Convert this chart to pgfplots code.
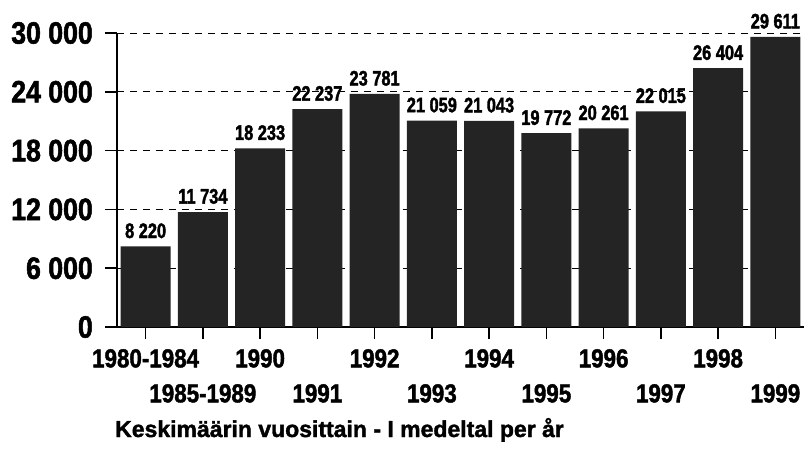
\documentclass[border=0pt]{standalone}
\usepackage{pgfplots}
\pgfplotsset{compat=1.18}
\usepackage{fontspec}
\setmainfont{Liberation Sans}[BoldFeatures={FakeBold=1.6}]
\newfontfamily\cond{Liberation Sans}[FakeStretch=0.86, BoldFeatures={FakeBold=1.6}]
\newfontfamily\condv{Liberation Sans}[FakeStretch=0.78, BoldFeatures={FakeBold=1.8}]
\begin{document}
\begin{tikzpicture}
\begin{axis}[
  scale only axis, width=687pt, height=294pt,
  xmin=-0.5, xmax=11.5, ymin=0, ymax=30000,
  axis x line=bottom, axis y line=left,
  axis line style={-, line width=1.6pt, black},
  clip=false, scaled y ticks=false,
  ytick={0,6000,12000,18000,24000,30000},
  yticklabels={0,6 000,12 000,18 000,24 000,30 000},
  yticklabel style={font=\cond\bfseries\fontsize{31}{31}\selectfont, inner sep=0pt, anchor=east, xshift=-12pt},
  ymajorgrids,
  grid style={black, line width=0.9pt, dash pattern=on 7pt off 6pt},
  xtick={0,2,4,6,8,10},
  xticklabels={1980-1984,1990,1992,1994,1996,1998},
  extra x ticks={1,3,5,7,9,11},
  extra x tick labels={1985-1989,1991,1993,1995,1997,1999},
  extra x tick style={grid=none, xticklabel style={yshift=-35pt}},
  xticklabel style={font=\cond\bfseries\fontsize{26}{26}\selectfont, inner sep=0pt, anchor=north, yshift=-10pt},
  tick style={black, line width=1.6pt},
  major tick length=12pt, tick align=outside,
  ybar, bar width=50pt,
  nodes near coords, point meta=explicit symbolic,
  every node near coord/.append style={font=\condv\bfseries\fontsize{21}{21}\selectfont, inner sep=0pt, anchor=south, yshift=8pt, black},
]
\addplot[fill=black!86, draw=none] coordinates {
 (0,8220) [8 220]
 (1,11734) [11 734]
 (2,18233) [18 233]
 (3,22237) [22 237]
 (4,23781) [23 781]
 (5,21059) [21 059]
 (6,21043) [21 043]
 (7,19772) [19 772]
 (8,20261) [20 261]
 (9,22015) [22 015]
 (10,26404) [26 404]
 (11,29611) [29 611]
};
\node[anchor=base west, inner sep=0pt, font=\bfseries\fontsize{23}{23}\selectfont] at (rel axis cs:0,0) [xshift=-2pt, yshift=-110pt] {Keskimäärin vuosittain - I medeltal per år};
\end{axis}
\pgfresetboundingbox
\path (-117pt,-124pt) rectangle (687pt,327pt);
\end{tikzpicture}
\end{document}
